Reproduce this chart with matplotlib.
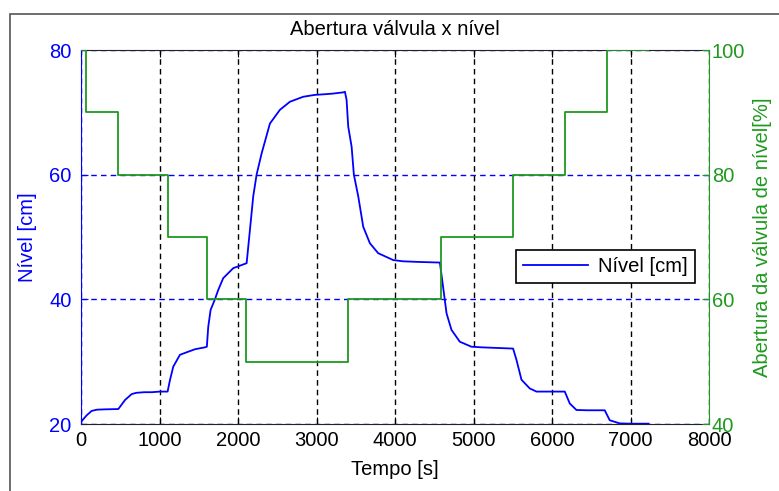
import matplotlib
matplotlib.use("Agg")
import matplotlib.pyplot as plt
from matplotlib.patches import Rectangle

plt.rcParams['font.family'] = ['Liberation Sans', 'DejaVu Sans']

# Level (blue) series: time [s], level [cm]
level_t = [0, 69, 132, 200, 300, 472, 557, 642, 700, 800, 900, 1000, 1100,
           1130, 1172, 1257, 1363, 1450, 1576, 1600, 1618, 1648, 1703, 1745,
           1809, 1936, 1980, 2107, 2149, 2191, 2234, 2298, 2404, 2531, 2659,
           2829, 2977, 3100, 3200, 3338, 3360, 3381, 3402, 3445, 3474, 3530,
           3593, 3678, 3784, 3975, 4100, 4300, 4570, 4591, 4633, 4655, 4718,
           4824, 4972, 5100, 5300, 5503, 5546, 5610, 5716, 5801, 5900, 6050,
           6162, 6225, 6310, 6450, 6671, 6735, 6862, 7000, 7230]
level_v = [20.4, 21.4, 22.1, 22.3, 22.35, 22.4, 23.85, 24.8, 25.0, 25.1, 25.1,
           25.2, 25.2, 27.05, 29.2, 31.1, 31.6, 32.0, 32.3, 32.4, 35.6, 38.3,
           40.0, 41.5, 43.4, 45.0, 45.2, 45.8, 51.1, 56.5, 60.0, 63.4, 68.2,
           70.4, 71.7, 72.5, 72.8, 72.9, 73.0, 73.2, 73.3, 72.0, 67.7, 64.5,
           60.0, 56.5, 51.65, 49.0, 47.4, 46.3, 46.1, 46.0, 45.9, 43.9, 39.9,
           37.75, 35.1, 33.2, 32.4, 32.3, 32.2, 32.1, 30.3, 27.1, 25.7, 25.2,
           25.2, 25.2, 25.2, 23.3, 22.25, 22.2, 22.2, 20.6, 20.1, 20.05, 20.05]

# Valve opening (green) series: time [s], opening [%]
valve_t = [0, 60, 470, 1100, 1600, 2100, 3400, 4580, 5500, 6160, 6700, 7220]
valve_v = [100, 90, 80, 70, 60, 50, 60, 70, 80, 90, 100, 100]

x_ticks = [0, 1000, 2000, 3000, 4000, 5000, 6000, 7000, 8000]
left_ticks = [20, 40, 60, 80]
right_ticks = [40, 60, 80, 100]

BLUE = '#0000ff'
GREEN = '#1f991f'
FS = 14.5

W, H = 779, 491
fig = plt.figure(figsize=(W / 100, H / 100), dpi=100)
# outer frame
fig.patches.append(Rectangle((10 / W, -0.1), 1.1, 1 - 14 / H + 0.1,
                             transform=fig.transFigure, fill=False,
                             edgecolor='#555555', linewidth=1.2))

ax = fig.add_axes([81.3 / W, 1 - 424 / H, (709 - 81.3) / W, (424 - 50) / H])
ax2 = ax.twinx()

ax.plot(level_t, level_v, color=BLUE, linewidth=1.3, label='Nível [cm]')
ax2.plot(valve_t, valve_v, color=GREEN, linewidth=1.3, drawstyle='steps-post')

ax.set_xlim(0, 8000)
ax.set_ylim(20, 80)
ax2.set_ylim(40, 100)
ax.set_xticks(x_ticks)
ax.set_yticks(left_ticks)
ax2.set_yticks(right_ticks)

ax.xaxis.grid(True, color='black', linestyle=(0, (4, 3)), linewidth=1.0)
ax.yaxis.grid(True, color=BLUE, linestyle=(0, (4, 3)), linewidth=1.0)

ax.tick_params(axis='x', direction='in', length=5, labelsize=FS,
               colors='black', top=True, pad=5)
ax.tick_params(axis='y', direction='in', length=5, labelsize=FS,
               colors=BLUE, pad=7)
ax2.tick_params(axis='y', direction='in', length=5, labelsize=FS,
                colors=GREEN, pad=2)

for s in ['top', 'bottom']:
    ax.spines[s].set_color('#222222')
ax.spines['left'].set_color(BLUE)
ax.spines['right'].set_visible(False)
for s in ['top', 'bottom', 'left']:
    ax2.spines[s].set_visible(False)
ax2.spines['right'].set_color(GREEN)

ax.set_xlabel('Tempo [s]', fontsize=FS, labelpad=7)
ax.set_ylabel('Nível [cm]', fontsize=FS, color=BLUE, labelpad=9)
ax2.set_ylabel('Abertura da válvula de nível[%]', fontsize=FS, color=GREEN,
               labelpad=6)
ax.set_title('Abertura válvula x nível', fontsize=FS, pad=11)

h, l = ax.get_legend_handles_labels()
leg = ax2.legend(h, l, loc='center', bbox_to_anchor=(0.835, 0.421),
                 fontsize=FS, frameon=True, fancybox=False, framealpha=1,
                 edgecolor='black', handlelength=3.2, borderpad=0.35,
                 handletextpad=0.5)
leg.get_frame().set_linewidth(1.2)

fig.savefig('out.png', dpi=100)
